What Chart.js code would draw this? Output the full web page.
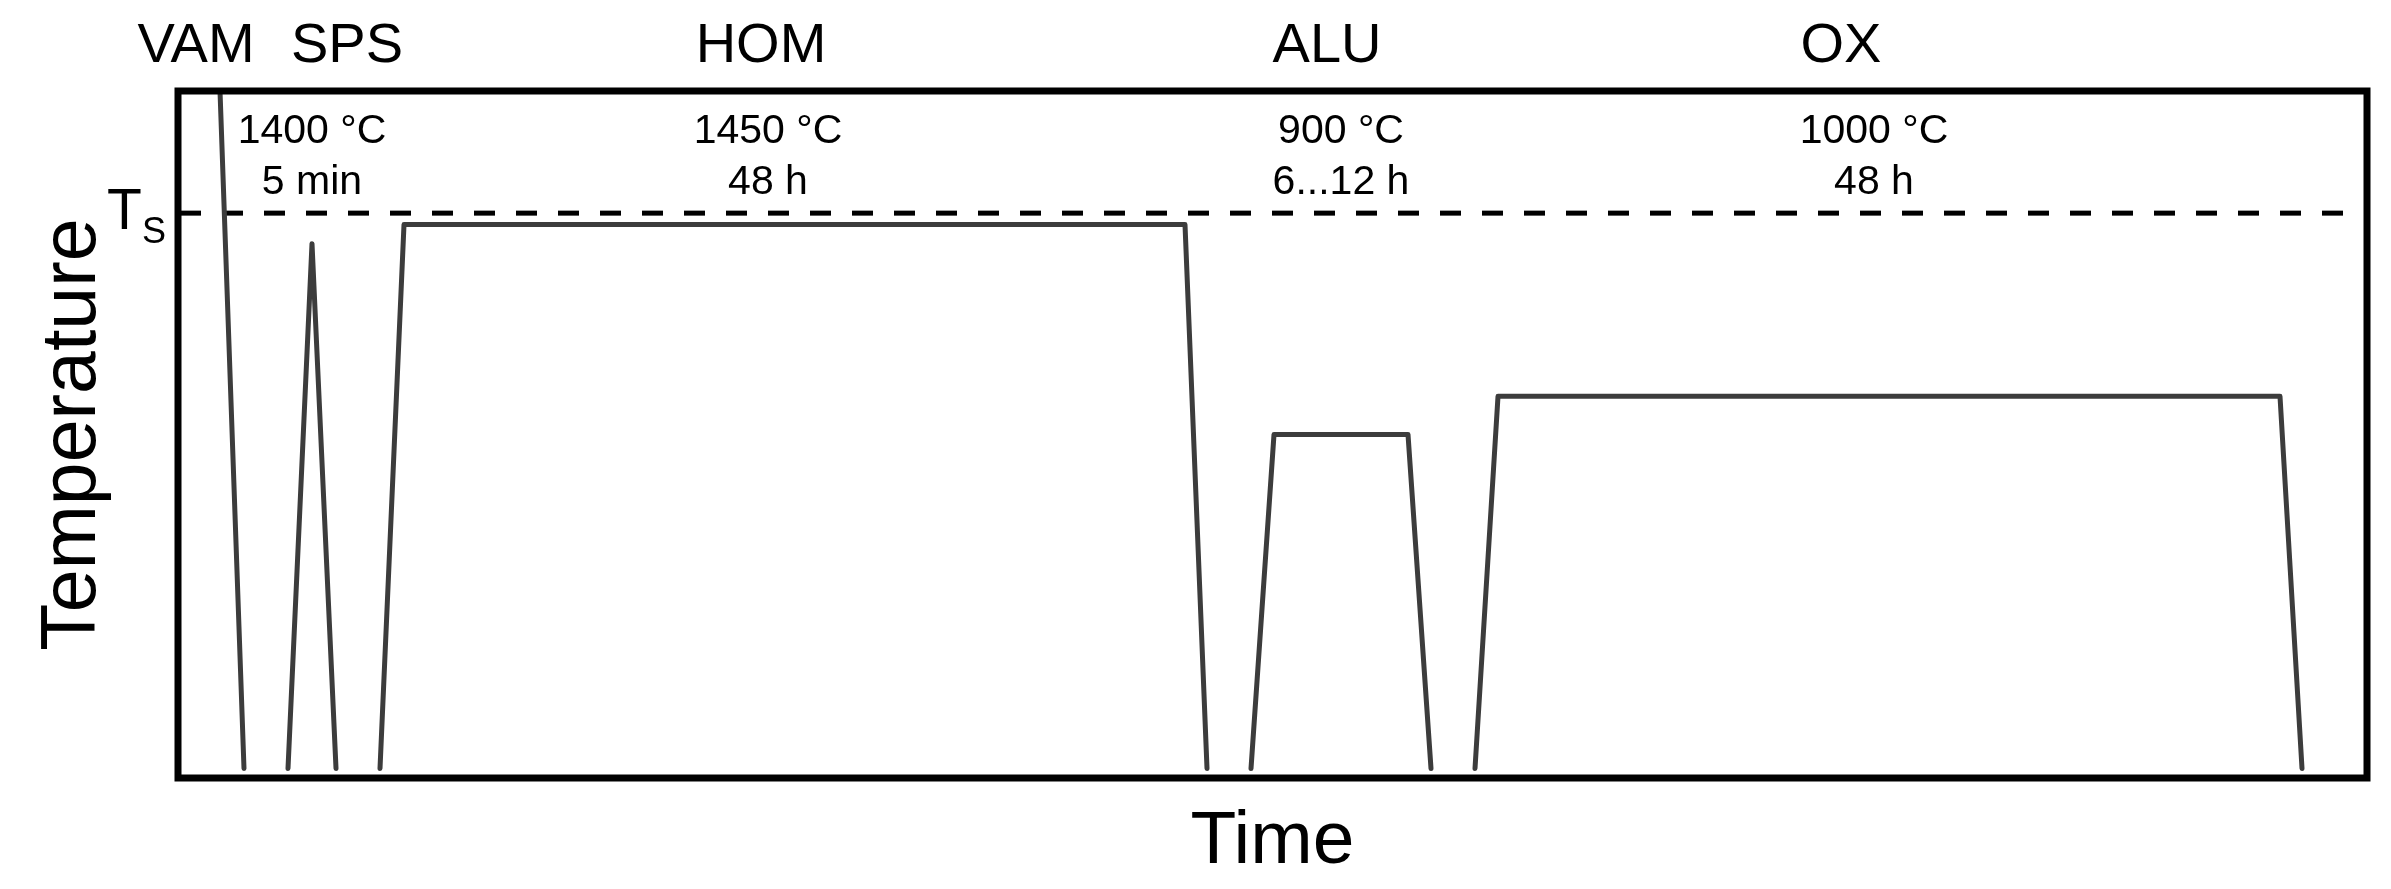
<!DOCTYPE html>
<html>
<head>
<meta charset="utf-8">
<script src="https://cdn.jsdelivr.net/npm/chart.js@4"></script>
<style>
  body { margin: 0; background: #fff; }
  #wrap { width: 2391px; height: 889px; position: relative; }
</style>
</head>
<body>
<div id="wrap"><canvas id="processChart"></canvas></div>
<script>
// time in arbitrary units, temperature in °C
const vamTime = [42, 66];
const vamTemp = [1800, 25];
const spsTime = [110, 134, 158];
const spsTemp = [25, 1400, 25];
const homTime = [202, 226, 1007, 1029];
const homTemp = [25, 1450, 1450, 25];
const aluTime = [1073, 1096, 1230, 1253];
const aluTemp = [25, 900, 900, 25];
const oxTime = [1297, 1320, 2102, 2124];
const oxTemp = [25, 1000, 1000, 25];

const solidusTemp = 1480;
const solidusTime = [2, 2168];

const stageNames = ["VAM", "SPS", "HOM", "ALU", "OX"];
const stageLabelTime = [18, 169, 583, 1149, 1663];
const holdTemps = ["1400 °C", "1450 °C", "900 °C", "1000 °C"];
const holdTimes = ["5 min", "48 h", "6...12 h", "48 h"];
const holdLabelTime = [134, 590, 1163, 1696];

const lineColor = "#3c3c3c";
const font = "'Liberation Sans', Arial, sans-serif";

function toPoints(xs, ys) {
  return xs.map((x, i) => ({ x: x, y: ys[i] }));
}

function segment(label, xs, ys) {
  return {
    label: label,
    data: toPoints(xs, ys),
    borderColor: lineColor,
    borderWidth: 5,
    borderCapStyle: "round",
    borderJoinStyle: "round",
    pointRadius: 0,
    tension: 0,
  };
}

const frameAndText = {
  id: "frameAndText",
  afterDraw(chart) {
    const { ctx, chartArea, scales } = chart;
    const x = scales.x;
    const y = scales.y;
    ctx.save();

    ctx.strokeStyle = "#000";
    ctx.lineWidth = 7;
    ctx.strokeRect(chartArea.left, chartArea.top, chartArea.right - chartArea.left, chartArea.bottom - chartArea.top);

    ctx.fillStyle = "#000";
    ctx.textAlign = "center";
    ctx.textBaseline = "alphabetic";

    ctx.font = "56px " + font;
    stageNames.forEach((name, i) => {
      ctx.fillText(name, x.getPixelForValue(stageLabelTime[i]), 62);
    });

    ctx.font = "41px " + font;
    holdTemps.forEach((t, i) => {
      const px = x.getPixelForValue(holdLabelTime[i]);
      ctx.fillText(t, px, 143);
      ctx.fillText(holdTimes[i], px, 194);
    });

    // T_S label beside the dashed line
    const tsY = y.getPixelForValue(solidusTemp);
    ctx.textAlign = "left";
    ctx.font = "57px " + font;
    ctx.fillText("T", chartArea.left - 71, tsY + 16);
    ctx.font = "36px " + font;
    ctx.fillText("S", chartArea.left - 36, tsY + 30);

    // axis titles
    ctx.textAlign = "center";
    ctx.font = "75px " + font;
    ctx.fillText("Time", (chartArea.left + chartArea.right) / 2, 863);

    ctx.translate(95, (chartArea.top + chartArea.bottom) / 2);
    ctx.rotate(-Math.PI / 2);
    ctx.font = "77px " + font;
    ctx.fillText("Temperature", 0, 0);

    ctx.restore();
  },
};

new Chart(document.getElementById("processChart"), {
  type: "line",
  data: {
    datasets: [
      segment("VAM", vamTime, vamTemp),
      segment("SPS", spsTime, spsTemp),
      segment("HOM", homTime, homTemp),
      segment("ALU", aluTime, aluTemp),
      segment("OX", oxTime, oxTemp),
      {
        label: "Ts",
        data: toPoints(solidusTime, [solidusTemp, solidusTemp]),
        borderColor: "#000",
        borderWidth: 5,
        borderDash: [21, 21],
        pointRadius: 0,
      },
    ],
  },
  options: {
    responsive: true,
    maintainAspectRatio: false,
    animation: false,
    layout: { padding: { left: 178, right: 24, top: 91, bottom: 111 } },
    plugins: { legend: { display: false }, tooltip: { enabled: false } },
    scales: {
      x: { type: "linear", min: 0, max: 2189, display: false },
      y: { min: 0, max: 1800, display: false },
    },
  },
  plugins: [frameAndText],
});
</script>
</body>
</html>
